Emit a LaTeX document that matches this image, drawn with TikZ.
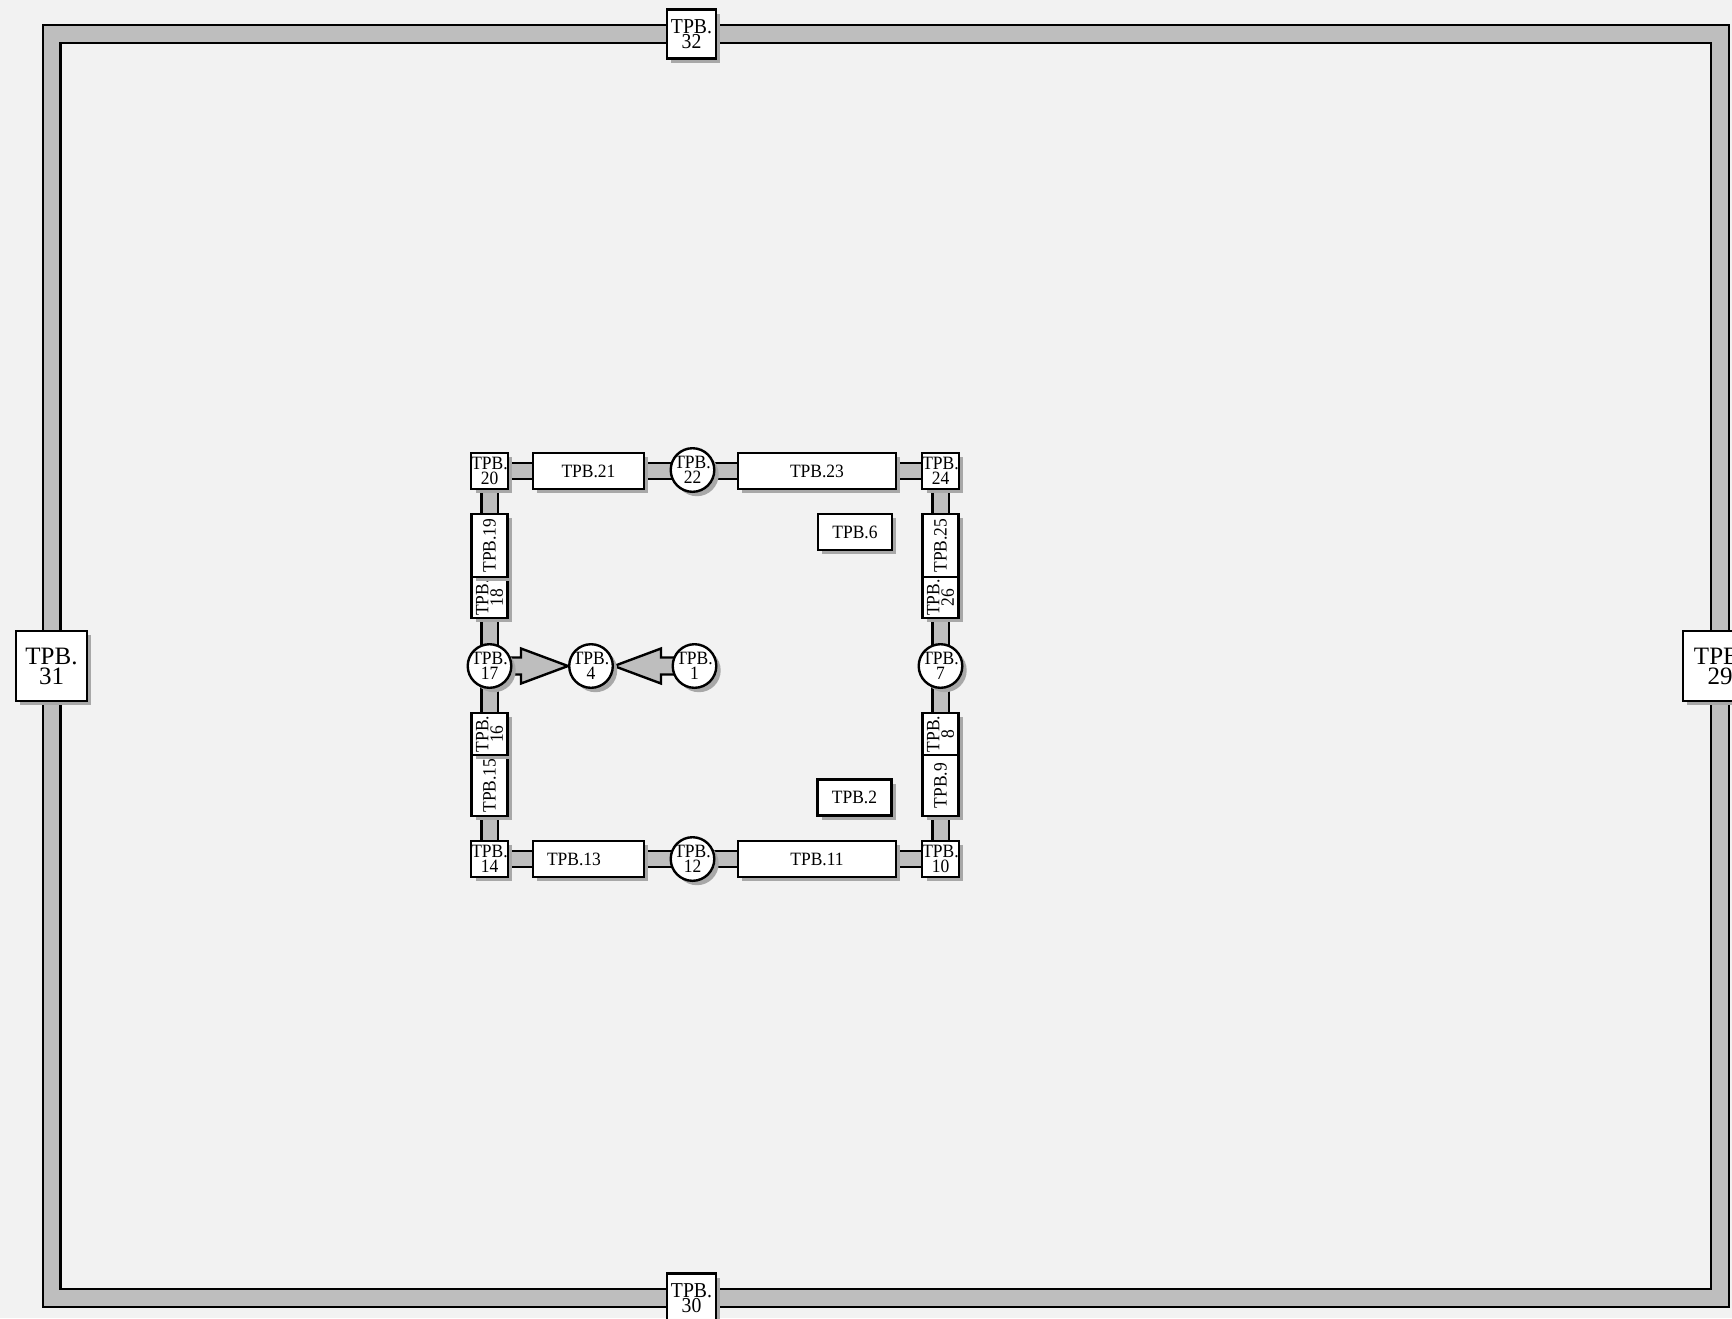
\documentclass[tikz,border=0pt]{standalone}
\usepackage{fontspec}
\setmainfont{Liberation Serif}
\newfontfamily\cond[FakeStretch=0.93]{Liberation Serif}
\usepackage{graphicx}
\usetikzlibrary{shadows,backgrounds,calc}
\definecolor{bg}{HTML}{F2F2F2}
\definecolor{pipe}{HTML}{BEBEBE}
\definecolor{shad}{HTML}{A8A8A8}
\newcommand\twol[3]{\vbox{\baselineskip=#1\lineskiplimit=-50pt\lineskip=0pt\halign{\hfil##\hfil\cr#2\cr#3\cr}}}
\newcommand\rotl[1]{\rotatebox{90}{#1}}
\begin{document}
\begin{tikzpicture}[x=0.5pt,y=-0.5pt,
 box/.style={draw, fill=white, line width=1.2pt, inner sep=0pt,
   drop shadow={shadow xshift=2.2pt, shadow yshift=-2.2pt, fill=shad, opacity=1}},
 rbox/.style={box, rectangle},
 cbox/.style={box, circle, inner sep=-3pt, minimum size=21.8pt, small},
 small/.style={font=\cond\fontsize{9.4}{7.4}\selectfont},
 mid/.style={font=\cond\fontsize{9.4}{9}\selectfont},
 corner/.style={rbox, small, minimum width=18pt, minimum height=18pt},
 hlong/.style={rbox, mid, minimum width=79pt, minimum height=18pt},
 hmed/.style={rbox, mid, minimum width=55.5pt, minimum height=18pt},
 hshort/.style={rbox, mid, minimum width=37pt, minimum height=18pt},
 vlong/.style={rbox, mid, minimum width=18pt, minimum height=31pt},
 vshort/.style={rbox, small, minimum width=18pt, minimum height=21pt},
 pipeo/.style={line width=1.2pt, double=pipe, double distance=7.6pt},
 pipei/.style={line width=1.1pt, double=pipe, double distance=7pt},
 fat/.style={draw, line width=1.2pt, fill=pipe, line join=miter},
]
\useasboundingbox (0,0) rectangle (1732,1318);

% outer frame nodes
\node[rbox, minimum width=24.5pt, minimum height=24.5pt, font=\cond\fontsize{10.6}{10}\selectfont] (n32) at (691.5,34) {\twol{7.6pt}{TPB.}{32}};
\node[rbox, minimum width=24.5pt, minimum height=24.5pt, font=\cond\fontsize{10.6}{10}\selectfont] (n30) at (691.5,1298) {\twol{7.6pt}{TPB.}{30}};
\node[rbox, minimum width=35.5pt, minimum height=35pt, font=\fontsize{12.5}{12}\selectfont] (n31) at (51.5,666) {\twol{10pt}{TPB.}{31}};
\node[rbox, minimum width=37pt, minimum height=35pt, font=\fontsize{12.5}{12}\selectfont] (n29) at (1720,666) {\twol{10pt}{TPB.}{29}};

% inner loop nodes
\node[corner] (n20) at (489.5,471) {\twol{7.2pt}{TPB.}{20}};
\node[hmed] (n21) at (588.5,471) {TPB.21};
\node[cbox] (n22) at (692.5,470) {\twol{7.6pt}{TPB.}{22}};
\node[hlong] (n23) at (817,471) {TPB.23};
\node[corner] (n24) at (940.5,471) {\twol{7.2pt}{TPB.}{24}};
\node[hshort] (n6) at (855,532) {TPB.6};
\node[vlong, minimum height=31.5pt] (n25) at (940.5,545.5) {\rotl{TPB.25}};
\node[vshort, minimum height=20.5pt] (n26) at (940.5,597.5) {\rotl{\twol{7.2pt}{TPB.}{26}}};
\node[cbox] (n7) at (940.5,666) {\twol{7.6pt}{TPB.}{7}};
\node[vshort] (n8) at (940.5,734) {\rotl{\twol{7.2pt}{TPB.}{8}}};
\node[vlong, minimum height=30.5pt] (n9) at (940.5,785.5) {\rotl{TPB.9}};
\node[hshort] (n2) at (854.5,797.5) {TPB.2};
\node[corner] (n10) at (940.5,859) {\twol{7.2pt}{TPB.}{10}};
\node[hlong] (n11) at (817,859) {TPB.11};
\node[cbox] (n12) at (692.5,859) {\twol{7.6pt}{TPB.}{12}};
\node[hmed] (n13) at (588.5,859) {\hspace*{-14.5pt}TPB.13};
\node[corner] (n14) at (489.5,859) {\twol{7.2pt}{TPB.}{14}};
\node[vlong, minimum height=30.5pt] (n15) at (489.5,785.5) {\rotl{TPB.15}};
\node[vshort] (n16) at (489.5,734) {\rotl{\twol{7.2pt}{TPB.}{16}}};
\node[cbox] (n17) at (489.5,666) {\twol{7.6pt}{TPB.}{17}};
\node[vshort, minimum height=20.5pt] (n18) at (489.5,597.5) {\rotl{\twol{7.2pt}{TPB.}{18}}};
\node[vlong, minimum height=31.5pt] (n19) at (489.5,545.5) {\rotl{TPB.19}};
\node[cbox] (n4) at (591,666) {\twol{7.6pt}{TPB.}{4}};
\node[cbox] (n1) at (694.5,666) {\twol{7.6pt}{TPB.}{1}};

\begin{scope}[on background layer]
\fill[bg] (0,0) rectangle (1732,1318);
\draw[pipeo] (n32.center) -| (n29.center) |- (n30.center) -| (n31.center) |- (n32.center);
\draw[pipei] (n20.center) -- (n24.center) -- (n10.center) -- (n14.center) -- cycle;
\draw[fat] ($(n17.center)+(0,-8.5)$) -- ($(n4.west)+(-47,-8.5)$) -- ($(n4.west)+(-47,-17.5)$) -- (n4.west)
  -- ($(n4.west)+(-47,17.5)$) -- ($(n4.west)+(-47,8.5)$) -- ($(n17.center)+(0,8.5)$) -- cycle;
\draw[fat] ($(n1.center)+(0,-8.5)$) -- ($(n4.east)+(47,-8.5)$) -- ($(n4.east)+(47,-17.5)$) -- (n4.east)
  -- ($(n4.east)+(47,17.5)$) -- ($(n4.east)+(47,8.5)$) -- ($(n1.center)+(0,8.5)$) -- cycle;
\end{scope}
\end{tikzpicture}
\end{document}
